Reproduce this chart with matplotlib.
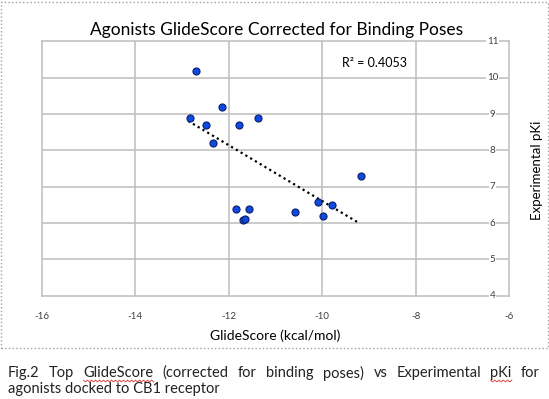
import matplotlib.pyplot as plt
import matplotlib.patches as patches
import numpy as np

# data
glide = [-12.70, -12.15, -12.84, -12.49, -11.78, -11.37, -12.34,
         -11.85, -11.57, -11.70, -11.66, -10.58, -10.10, -9.78, -9.98, -9.17]
pki = [10.19, 9.20, 8.89, 8.70, 8.70, 8.89, 8.19,
       6.39, 6.39, 6.09, 6.11, 6.30, 6.58, 6.50, 6.20, 7.29]
xticks = [-16, -14, -12, -10, -8, -6]
yticks = [4, 5, 6, 7, 8, 9, 10, 11]
r2_label = "R² = 0.4053"
# linear trendline as drawn in the picture
trend_slope = -0.768
trend_icpt = -1.074

plt.rcParams['font.family'] = ['Lato', 'DejaVu Sans']

fig = plt.figure(figsize=(5.49, 3.99), dpi=100)
ax = fig.add_axes([42/549, 1-295.7/399, 467/549, 254.3/399])

grid_c = '#bdbdbd'
ax.set_xlim(-16, -6)
ax.set_ylim(4, 11)
for x in xticks[1:-1]:
    ax.axvline(x, color=grid_c, lw=1.1, zorder=1)
for y in yticks[1:-1]:
    ax.axhline(y, color=grid_c, lw=1.1, zorder=1)
for s in ax.spines.values():
    s.set_color(grid_c)
    s.set_linewidth(1.1)
ax.set_xticks([])
ax.set_yticks([])

# trend line over the range of the data
gx = np.array(glide)
tx = np.array([gx.min() - 0.03, gx.max() - 0.03])
ax.plot(tx, trend_slope*tx + trend_icpt, color='black', ls=(0, (1, 1.5)),
        lw=1.6, zorder=2)

ax.scatter(glide, pki, s=26, color='#0f4ae0', edgecolors='#0a1f6e',
           linewidths=0.8, zorder=3)

ax.text(-9.58, 10.41, r2_label, fontsize=9, va='center', ha='left')

# tick labels
for x in xticks:
    ax.text(x, -0.08, str(x), transform=ax.get_xaxis_transform(),
            ha='center', va='center', fontsize=7, color='#404040')
for y in yticks:
    ax.text(0.965, y, str(y), transform=ax.get_yaxis_transform(),
            ha='center', va='center', fontsize=7, color='#404040',
            bbox=dict(facecolor='white', edgecolor='none', pad=0.6), zorder=4,
            clip_on=False)

fig.text(277/549, 1-30/399, "Agonists GlideScore Corrected for Binding Poses",
         ha='center', va='center', fontsize=12.5)
fig.text(275/549, 1-336/399, "GlideScore (kcal/mol)", ha='center',
         va='center', fontsize=10)
fig.text(537/549, 1-170/399, "Experimental pKi", rotation=90, ha='center',
         va='center', fontsize=9.5)

# dotted chart border
fig.patches.append(patches.Rectangle((1/549, 1-348/399), 547/549, 346/399,
                                     transform=fig.transFigure, fill=False,
                                     edgecolor='#a0a0a0', lw=1, ls=':'))

# caption, first line justified
line1 = ["Fig.2", "Top", "GlideScore", "(corrected", "for", "binding",
         "poses)", "vs", "Experimental", "pKi", "for"]
cap_size = 10.5
renderer = fig.canvas.get_renderer()
texts = []
widths = []
for w in line1:
    t = fig.text(0, 1-373/399, w, fontsize=cap_size, va='center', ha='left',
                 color='#222222')
    texts.append(t)
    widths.append(t.get_window_extent(renderer).width)
x0, x1 = 8, 540
gap = (x1 - x0 - sum(widths)) / (len(line1) - 1)
pos = x0
for t, w, word in zip(texts, widths, line1):
    t.set_x(pos/549)
    if word in ("GlideScore", "pKi"):
        xs = np.linspace(pos, pos + w, int(w/2) + 1)
        ys = 1-381/399 + 0.9/399*np.where(np.arange(len(xs)) % 2 == 0, 1, -1)
        fig.add_artist(plt.Line2D(xs/549, ys, color='#e03030', lw=0.6))
    pos += w + gap
fig.text(8/549, 1-389/399, "agonists docked to CB1 receptor", fontsize=cap_size,
         va='center', ha='left', color='#222222')

fig.savefig("out.png", dpi=100)
